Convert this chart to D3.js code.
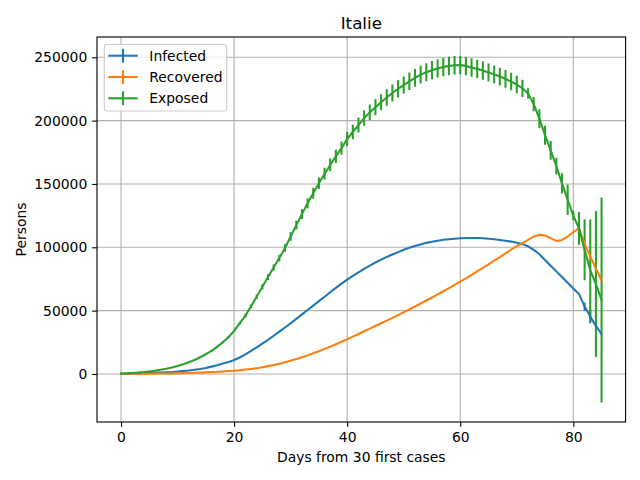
<!DOCTYPE html>
<html>
<head>
<meta charset="utf-8">
<script src="https://cdn.jsdelivr.net/npm/d3@7"></script>
<style>
html,body{margin:0;padding:0;background:#fff;}
text{font-family:"DejaVu Sans",sans-serif;}
</style>
</head>
<body>
<svg id="chart" width="640" height="480"></svg>
<script>
const days = d3.range(0, 86);
const infected = [200,300,400,500,650,800,1000,1200,1400,1600,
  1900,2300,2800,3400,4000,4800,5800,6900,8200,9500,
  11000,13000,15500,18200,21000,24000,27000,30200,33500,36700,
  40000,43500,47000,50500,54000,57500,61000,64500,68000,71300,
  74500,77500,80300,83000,85600,88000,90300,92400,94300,96200,
  98000,99600,101000,102300,103500,104400,105200,105900,106400,106800,
  107100,107300,107400,107300,107100,106700,106300,105800,105200,104500,
  103600,102500,100800,98000,94500,90000,85500,81000,76500,72000,
  67500,63200,53200,45300,37900,31600];
const infectedErr = [0,0,0,0,0,0,0,0,0,0, 0,0,0,0,0,0,0,0,0,0,
  0,0,0,0,0,0,0,0,0,0, 0,0,0,0,0,0,0,0,0,0,
  0,0,0,0,0,0,0,0,0,0, 0,0,0,0,0,0,0,0,0,0,
  0,0,0,0,0,0,0,0,0,0, 0,0,0,0,0,0,0,0,0,0,
  0,0,3300,5300,0,0];
const recovered = [0,50,100,150,200,250,300,350,400,500,
  600,700,800,950,1100,1300,1500,1700,2000,2300,
  2600,3000,3500,4000,4600,5300,6200,7100,8100,9200,
  10500,11800,13200,14700,16300,18000,19800,21600,23500,25500,
  27500,29500,31600,33700,35800,37900,40000,42100,44300,46500,
  48700,51000,53300,55600,58000,60400,62800,65300,67800,70300,
  72900,75500,78200,81000,83800,86600,89400,92300,95200,98100,
  101000,103300,105800,108500,109800,109300,107200,105000,105800,108500,
  112000,115000,102700,92700,83200,73700];
const recoveredErr = days.map(() => 0);
const exposed = [300,500,800,1100,1500,2000,2600,3300,4100,5100,
  6300,7700,9300,11000,13200,15600,18300,21400,25000,29000,
  34000,40000,46000,53500,61000,68800,76500,84000,91500,99500,
  108500,117500,126200,134700,142700,150500,158000,165000,171800,178300,
  185500,191000,196500,202000,206500,210500,214500,218300,221800,225000,
  228000,231000,233800,236300,238200,239800,241200,242300,243200,243700,
  243800,243200,242000,240800,239500,238000,236500,234800,233000,230800,
  228500,225500,221500,213000,201500,188500,176500,164000,150500,137500,
  125000,115000,98000,82000,71000,58400];
const exposedErr = [10,20,20,30,50,60,80,100,120,150,
  190,230,280,330,400,470,550,640,750,870,
  1000,1200,1400,1600,1800,2100,2300,2500,2700,3000,
  3300,3500,3800,4000,4300,4500,4700,5000,5200,5300,
  5600,5700,5900,6100,6200,6300,6400,6500,6700,6800,
  6800,6900,7000,7100,7100,7200,7200,7300,7300,7300,
  7300,7300,7300,7200,7200,7100,7100,7000,7000,6900,
  6900,6800,4000,5700,7500,7500,7400,6600,8000,12100,
  3700,12900,24000,40000,57600,81000];

const seriesNames = ["Infected","Recovered","Exposed"];
const seriesVals = [infected, recovered, exposed];
const seriesErrs = [infectedErr, recoveredErr, exposedErr];
const colors = ["#1f77b4","#ff7f0e","#2ca02c"];
const xTicks = [0,20,40,60,80];
const yTicks = [0,50000,100000,150000,200000,250000];
const title = "Italie";
const xLabel = "Days from 30 first cases";
const yLabel = "Persons";

const L = 97, R = 625.6, T = 37, B = 422;
const LW = 2.08, THIN = 1.11;
const svg = d3.select("#chart");
const x = d3.scaleLinear().domain([-4.25, 89.25]).range([L, R]);
const y = d3.scaleLinear().domain([-37900, 266000]).range([B, T]);

// grid
const g = svg.append("g");
g.selectAll("line.gx").data(xTicks).enter().append("line")
  .attr("x1", d => x(d)).attr("x2", d => x(d)).attr("y1", T).attr("y2", B)
  .attr("stroke", "#b0b0b0").attr("stroke-width", THIN);
g.selectAll("line.gy").data(yTicks).enter().append("line")
  .attr("y1", d => y(d)).attr("y2", d => y(d)).attr("x1", L).attr("x2", R)
  .attr("stroke", "#b0b0b0").attr("stroke-width", THIN);

svg.append("clipPath").attr("id","clip").append("rect")
  .attr("x", L).attr("y", T).attr("width", R-L).attr("height", B-T);
const plot = svg.append("g").attr("clip-path","url(#clip)");

// error bars first (below lines)
seriesVals.forEach((vals, si) => {
  const errs = seriesErrs[si];
  plot.append("g").selectAll("line").data(days.filter(d => errs[d] > 0)).enter().append("line")
    .attr("x1", d => x(d)).attr("x2", d => x(d))
    .attr("y1", d => y(vals[d] - errs[d])).attr("y2", d => y(vals[d] + errs[d]))
    .attr("stroke", colors[si]).attr("stroke-width", LW);
});
const line = d3.line().x((v, i) => x(days[i])).y(v => y(v));
seriesVals.forEach((vals, si) => {
  plot.append("path").attr("d", line(vals)).attr("fill","none")
    .attr("stroke", colors[si]).attr("stroke-width", LW).attr("stroke-linejoin","round").attr("stroke-linecap","square");
});

// axes
const xAxis = d3.axisBottom(x).tickValues(xTicks).tickSize(4.86).tickPadding(4.86).tickFormat(d3.format("d"));
const yAxis = d3.axisLeft(y).tickValues(yTicks).tickSize(4.86).tickPadding(4.86).tickFormat(d3.format("d"));
const gx = svg.append("g").attr("transform", `translate(0,${B})`).call(xAxis);
const gy = svg.append("g").attr("transform", `translate(${L},0)`).call(yAxis);
[gx, gy].forEach(a => {
  a.select(".domain").remove();
  a.selectAll(".tick line").attr("stroke","#000").attr("stroke-width",THIN);
  a.selectAll(".tick text").attr("fill","#000").style("font-size","13.9px").style("font-family","DejaVu Sans");
});
svg.append("rect").attr("x", L).attr("y", T).attr("width", R-L).attr("height", B-T)
  .attr("fill","none").attr("stroke","#000").attr("stroke-width",THIN);

svg.append("text").attr("x", (L+R)/2).attr("y", 29).attr("text-anchor","middle")
  .style("font-size","16.7px").text(title);
svg.append("text").attr("x", (L+R)/2).attr("y", 462).attr("text-anchor","middle")
  .style("font-size","13.9px").text(xLabel);
svg.append("text").attr("transform", `translate(26,${(T+B)/2}) rotate(-90)`).attr("text-anchor","middle")
  .style("font-size","13.9px").text(yLabel);

// legend
const lg = svg.append("g");
lg.append("rect").attr("x",104.3).attr("y",44.5).attr("width",122.4).attr("height",66.5)
  .attr("rx",2.5).attr("fill","#fff").attr("fill-opacity",0.8).attr("stroke","#cccccc").attr("stroke-width",THIN);
seriesNames.forEach((name, i) => {
  const cy = 55.7 + i*21.3;
  lg.append("line").attr("x1",108.3).attr("x2",137.7).attr("y1",cy).attr("y2",cy)
    .attr("stroke",colors[i]).attr("stroke-width",LW);
  lg.append("line").attr("x1",123).attr("x2",123).attr("y1",cy-6.9).attr("y2",cy+6.9)
    .attr("stroke",colors[i]).attr("stroke-width",LW);
  lg.append("text").attr("x",149.3).attr("y",cy+5).style("font-size","13.9px").text(name);
});
</script>
</body>
</html>
